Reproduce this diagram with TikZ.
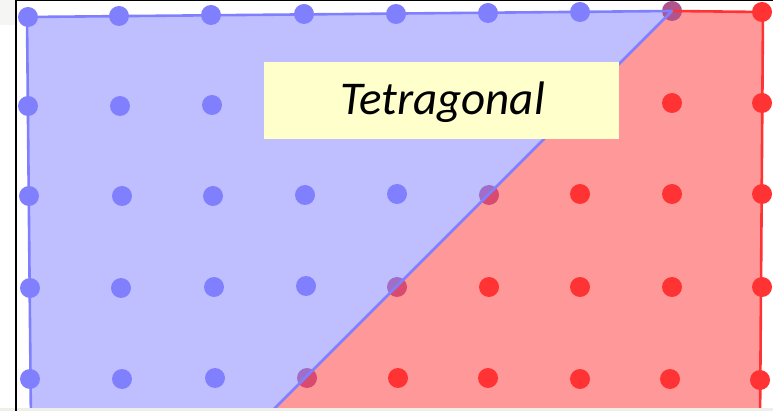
\documentclass[tikz,border=0pt]{standalone}
\usepackage{fontspec}
\setmainfont{Carlito}
\definecolor{bfill}{HTML}{BFBFFF}
\definecolor{bdot}{HTML}{8080FF}
\definecolor{rfill}{HTML}{FF9999}
\definecolor{rdot}{HTML}{FF3333}
\definecolor{pblue}{HTML}{A06EC6}
\definecolor{pred}{HTML}{D84B6E}
\definecolor{ptop}{HTML}{B0548E}
\definecolor{lbl}{HTML}{FFFFCC}
\definecolor{strip}{HTML}{EFEFEA}
\tikzset{
  bluedot/.style={fill=bdot},
  reddot/.style={fill=rdot},
  edgeb/.style={draw=bdot, line width=2.6pt, line join=round},
  edger/.style={draw=rdot, line width=2.6pt, line join=round},
  labelbox/.style={fill=lbl, inner sep=0pt, minimum width=355pt, minimum height=77pt},
  labeltext/.style={inner sep=0pt, font=\itshape\fontsize{47}{52}\selectfont}
}
\begin{document}
\begin{tikzpicture}[x=1pt,y=-1pt]
\useasboundingbox (0,0) rectangle (773,411);
\fill[white] (0,0) rectangle (773,411);
\fill[strip!60] (0,0) rectangle (15,25);
\begin{scope}
\clip (0,0) rectangle (773,408);
\coordinate (TL) at (27,17);
\coordinate (TM) at (672,11);
\coordinate (TR) at (763,12);
\coordinate (BR) at (760,425);
\coordinate (BD) at (258,425);
\coordinate (BL) at (31,425);
\fill[rfill] (TM) -- (TR) -- (BR) -- (BD) -- cycle;
\fill[bfill] (TL) -- (TM) -- (BD) -- (BL) -- cycle;
\foreach \x/\y in {28/17,119/16,211/15,304/14,396/14,488/13,580/12,
                   28/106,120/106,212/105,
                   29/196,122/196,213/196,305/195,397/194,
                   30/288,121/288,214/287,306/286,
                   30/379,122/379,215/378}
  \fill[bluedot] (\x,\y) circle (10);
\foreach \x/\y in {762/12,
                   672/103,762/103,
                   580/194,672/194,762/194,
                   489/287,580/287,672/287,762/287,
                   398/378,488/378,580/379,670/379,760/380}
  \fill[reddot] (\x,\y) circle (10);
\foreach \x/\y in {489/195,397/287,307/378}{
  \begin{scope}
    \clip (TM) -- (BD) -- (0,425) -- (0,0) -- cycle;
    \fill[pblue] (\x,\y) circle (10);
  \end{scope}
  \begin{scope}
    \clip (TM) -- (BD) -- (773,425) -- (773,0) -- cycle;
    \fill[pred] (\x,\y) circle (10);
  \end{scope}
}
\fill[ptop] (TM) circle (10);
\draw[edger] (TM) -- (TR) -- (BR);
\draw[edgeb] (BL) -- (TL) -- (TM) -- (BD);
\end{scope}
\fill[strip] (0,408) rectangle (773,411);
\draw[black, line width=2pt] (16,0) -- (16,411);
\draw[black, line width=1.5pt] (16,0.5) -- (773,0.5);
\node[labelbox] (lab) at (441.5,100.5) {};
\node[labeltext, anchor=base] (labtext) at (442.5,115) {Tetragonal};
\end{tikzpicture}
\end{document}
